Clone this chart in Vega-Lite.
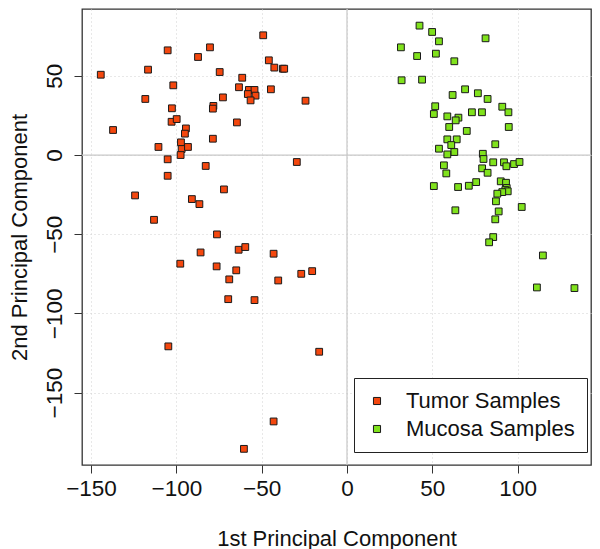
{
  "$schema": "https://vega.github.io/schema/vega-lite/v6.json",
  "autosize": "none",
  "width": 509,
  "height": 456,
  "padding": {"left": 82, "top": 9, "right": 9, "bottom": 84},
  "background": "white",
  "config": {
    "font": "Liberation Sans",
    "view": {"stroke": "#333333", "strokeWidth": 1.3},
    "axis": {
      "domain": false,
      "grid": true,
      "gridColor": "#d0d0d0",
      "gridDash": [1, 3],
      "gridWidth": 1,
      "ticks": true,
      "tickColor": "#333333",
      "tickSize": 8,
      "labelFont": "Liberation Sans",
      "labelFontSize": 22.5,
      "labelColor": "#111111",
      "labelFlush": false,
      "labelOverlap": false,
      "titleFont": "Liberation Sans",
      "titleFontSize": 22,
      "titleFontWeight": "normal",
      "titleColor": "#111111"
    },
    "legend": {
      "labelFont": "Liberation Sans",
      "labelFontSize": 22,
      "labelColor": "#111111",
      "labelLimit": 0
    }
  },
  "datasets": {
    "pts": [
      {"pc1": -144.3, "pc2": 50.7, "group": "Tumor Samples"},
      {"pc1": -137.1, "pc2": 15.8, "group": "Tumor Samples"},
      {"pc1": -124.2, "pc2": -25.5, "group": "Tumor Samples"},
      {"pc1": -118.2, "pc2": 35.4, "group": "Tumor Samples"},
      {"pc1": -116.6, "pc2": 53.9, "group": "Tumor Samples"},
      {"pc1": -113.1, "pc2": -40.9, "group": "Tumor Samples"},
      {"pc1": -110.5, "pc2": 5.1, "group": "Tumor Samples"},
      {"pc1": -105.1, "pc2": 66.1, "group": "Tumor Samples"},
      {"pc1": -105.1, "pc2": -2.7, "group": "Tumor Samples"},
      {"pc1": -105.1, "pc2": -13.1, "group": "Tumor Samples"},
      {"pc1": -102.6, "pc2": 29.5, "group": "Tumor Samples"},
      {"pc1": -102.8, "pc2": 21.0, "group": "Tumor Samples"},
      {"pc1": -101.8, "pc2": 44.0, "group": "Tumor Samples"},
      {"pc1": -99.8, "pc2": 22.7, "group": "Tumor Samples"},
      {"pc1": -97.3, "pc2": 8.0, "group": "Tumor Samples"},
      {"pc1": -96.9, "pc2": 3.8, "group": "Tumor Samples"},
      {"pc1": -97.5, "pc2": 0.0, "group": "Tumor Samples"},
      {"pc1": -94.4, "pc2": 16.8, "group": "Tumor Samples"},
      {"pc1": -95.0, "pc2": 13.5, "group": "Tumor Samples"},
      {"pc1": -93.2, "pc2": 5.1, "group": "Tumor Samples"},
      {"pc1": -90.9, "pc2": -27.8, "group": "Tumor Samples"},
      {"pc1": -86.5, "pc2": -31.0, "group": "Tumor Samples"},
      {"pc1": -87.3, "pc2": 61.9, "group": "Tumor Samples"},
      {"pc1": -80.3, "pc2": 68.0, "group": "Tumor Samples"},
      {"pc1": -82.8, "pc2": -6.9, "group": "Tumor Samples"},
      {"pc1": -78.3, "pc2": 31.0, "group": "Tumor Samples"},
      {"pc1": -78.6, "pc2": 29.3, "group": "Tumor Samples"},
      {"pc1": -78.6, "pc2": 10.3, "group": "Tumor Samples"},
      {"pc1": -74.6, "pc2": 52.4, "group": "Tumor Samples"},
      {"pc1": -72.7, "pc2": 36.4, "group": "Tumor Samples"},
      {"pc1": -72.1, "pc2": -21.7, "group": "Tumor Samples"},
      {"pc1": -76.2, "pc2": -50.1, "group": "Tumor Samples"},
      {"pc1": -64.5, "pc2": 20.6, "group": "Tumor Samples"},
      {"pc1": -63.3, "pc2": 42.8, "group": "Tumor Samples"},
      {"pc1": -61.4, "pc2": 48.8, "group": "Tumor Samples"},
      {"pc1": -57.5, "pc2": 41.1, "group": "Tumor Samples"},
      {"pc1": -54.2, "pc2": 41.1, "group": "Tumor Samples"},
      {"pc1": -58.1, "pc2": 38.5, "group": "Tumor Samples"},
      {"pc1": -53.6, "pc2": 37.5, "group": "Tumor Samples"},
      {"pc1": -56.5, "pc2": 34.5, "group": "Tumor Samples"},
      {"pc1": -49.1, "pc2": 75.6, "group": "Tumor Samples"},
      {"pc1": -45.8, "pc2": 59.8, "group": "Tumor Samples"},
      {"pc1": -42.6, "pc2": 55.2, "group": "Tumor Samples"},
      {"pc1": -37.6, "pc2": 54.5, "group": "Tumor Samples"},
      {"pc1": -36.8, "pc2": 54.5, "group": "Tumor Samples"},
      {"pc1": -44.6, "pc2": 41.5, "group": "Tumor Samples"},
      {"pc1": -24.3, "pc2": 34.3, "group": "Tumor Samples"},
      {"pc1": -29.4, "pc2": -4.4, "group": "Tumor Samples"},
      {"pc1": -85.8, "pc2": -61.5, "group": "Tumor Samples"},
      {"pc1": -97.7, "pc2": -68.6, "group": "Tumor Samples"},
      {"pc1": -63.5, "pc2": -59.8, "group": "Tumor Samples"},
      {"pc1": -59.6, "pc2": -58.1, "group": "Tumor Samples"},
      {"pc1": -76.4, "pc2": -70.3, "group": "Tumor Samples"},
      {"pc1": -64.9, "pc2": -72.8, "group": "Tumor Samples"},
      {"pc1": -69.0, "pc2": -78.5, "group": "Tumor Samples"},
      {"pc1": -43.0, "pc2": -62.3, "group": "Tumor Samples"},
      {"pc1": -40.3, "pc2": -79.2, "group": "Tumor Samples"},
      {"pc1": -26.8, "pc2": -75.0, "group": "Tumor Samples"},
      {"pc1": -20.4, "pc2": -73.3, "group": "Tumor Samples"},
      {"pc1": -69.6, "pc2": -91.0, "group": "Tumor Samples"},
      {"pc1": -54.2, "pc2": -91.6, "group": "Tumor Samples"},
      {"pc1": -104.7, "pc2": -120.8, "group": "Tumor Samples"},
      {"pc1": -16.3, "pc2": -124.2, "group": "Tumor Samples"},
      {"pc1": -43.0, "pc2": -168.2, "group": "Tumor Samples"},
      {"pc1": -60.4, "pc2": -185.5, "group": "Tumor Samples"},
      {"pc1": 42.5, "pc2": 81.7, "group": "Mucosa Samples"},
      {"pc1": 49.9, "pc2": 77.7, "group": "Mucosa Samples"},
      {"pc1": 53.9, "pc2": 71.8, "group": "Mucosa Samples"},
      {"pc1": 31.6, "pc2": 68.0, "group": "Mucosa Samples"},
      {"pc1": 41.1, "pc2": 62.5, "group": "Mucosa Samples"},
      {"pc1": 52.1, "pc2": 64.0, "group": "Mucosa Samples"},
      {"pc1": 62.9, "pc2": 59.2, "group": "Mucosa Samples"},
      {"pc1": 81.2, "pc2": 73.7, "group": "Mucosa Samples"},
      {"pc1": 32.0, "pc2": 47.2, "group": "Mucosa Samples"},
      {"pc1": 44.0, "pc2": 47.6, "group": "Mucosa Samples"},
      {"pc1": 61.9, "pc2": 37.9, "group": "Mucosa Samples"},
      {"pc1": 69.2, "pc2": 41.5, "group": "Mucosa Samples"},
      {"pc1": 76.7, "pc2": 39.0, "group": "Mucosa Samples"},
      {"pc1": 82.4, "pc2": 35.4, "group": "Mucosa Samples"},
      {"pc1": 51.7, "pc2": 30.8, "group": "Mucosa Samples"},
      {"pc1": 50.9, "pc2": 25.9, "group": "Mucosa Samples"},
      {"pc1": 58.8, "pc2": 24.4, "group": "Mucosa Samples"},
      {"pc1": 65.3, "pc2": 23.6, "group": "Mucosa Samples"},
      {"pc1": 63.7, "pc2": 21.9, "group": "Mucosa Samples"},
      {"pc1": 73.2, "pc2": 27.0, "group": "Mucosa Samples"},
      {"pc1": 79.1, "pc2": 27.0, "group": "Mucosa Samples"},
      {"pc1": 91.0, "pc2": 30.5, "group": "Mucosa Samples"},
      {"pc1": 94.6, "pc2": 27.0, "group": "Mucosa Samples"},
      {"pc1": 59.9, "pc2": 17.7, "group": "Mucosa Samples"},
      {"pc1": 94.8, "pc2": 17.7, "group": "Mucosa Samples"},
      {"pc1": 70.2, "pc2": 15.2, "group": "Mucosa Samples"},
      {"pc1": 58.8, "pc2": 9.9, "group": "Mucosa Samples"},
      {"pc1": 64.3, "pc2": 9.9, "group": "Mucosa Samples"},
      {"pc1": 61.1, "pc2": 6.3, "group": "Mucosa Samples"},
      {"pc1": 53.9, "pc2": 4.0, "group": "Mucosa Samples"},
      {"pc1": 86.9, "pc2": 6.8, "group": "Mucosa Samples"},
      {"pc1": 62.9, "pc2": 1.9, "group": "Mucosa Samples"},
      {"pc1": 58.8, "pc2": 0.4, "group": "Mucosa Samples"},
      {"pc1": 79.6, "pc2": 0.8, "group": "Mucosa Samples"},
      {"pc1": 80.0, "pc2": -2.5, "group": "Mucosa Samples"},
      {"pc1": 85.7, "pc2": -4.6, "group": "Mucosa Samples"},
      {"pc1": 92.0, "pc2": -4.6, "group": "Mucosa Samples"},
      {"pc1": 93.4, "pc2": -7.1, "group": "Mucosa Samples"},
      {"pc1": 97.9, "pc2": -5.7, "group": "Mucosa Samples"},
      {"pc1": 101.1, "pc2": -4.4, "group": "Mucosa Samples"},
      {"pc1": 56.8, "pc2": -6.5, "group": "Mucosa Samples"},
      {"pc1": 58.2, "pc2": -11.6, "group": "Mucosa Samples"},
      {"pc1": 79.2, "pc2": -8.4, "group": "Mucosa Samples"},
      {"pc1": 82.4, "pc2": -11.2, "group": "Mucosa Samples"},
      {"pc1": 50.9, "pc2": -19.6, "group": "Mucosa Samples"},
      {"pc1": 65.1, "pc2": -20.2, "group": "Mucosa Samples"},
      {"pc1": 71.4, "pc2": -19.4, "group": "Mucosa Samples"},
      {"pc1": 75.7, "pc2": -17.1, "group": "Mucosa Samples"},
      {"pc1": 90.1, "pc2": -16.6, "group": "Mucosa Samples"},
      {"pc1": 93.2, "pc2": -17.5, "group": "Mucosa Samples"},
      {"pc1": 93.6, "pc2": -20.8, "group": "Mucosa Samples"},
      {"pc1": 92.8, "pc2": -22.1, "group": "Mucosa Samples"},
      {"pc1": 94.2, "pc2": -22.9, "group": "Mucosa Samples"},
      {"pc1": 91.0, "pc2": -23.4, "group": "Mucosa Samples"},
      {"pc1": 88.1, "pc2": -24.4, "group": "Mucosa Samples"},
      {"pc1": 87.3, "pc2": -29.2, "group": "Mucosa Samples"},
      {"pc1": 102.4, "pc2": -32.8, "group": "Mucosa Samples"},
      {"pc1": 63.5, "pc2": -34.9, "group": "Mucosa Samples"},
      {"pc1": 88.9, "pc2": -35.6, "group": "Mucosa Samples"},
      {"pc1": 86.9, "pc2": -40.6, "group": "Mucosa Samples"},
      {"pc1": 85.7, "pc2": -51.8, "group": "Mucosa Samples"},
      {"pc1": 83.3, "pc2": -55.1, "group": "Mucosa Samples"},
      {"pc1": 114.8, "pc2": -63.4, "group": "Mucosa Samples"},
      {"pc1": 111.3, "pc2": -83.6, "group": "Mucosa Samples"},
      {"pc1": 133.3, "pc2": -84.0, "group": "Mucosa Samples"}
    ],
    "zero": [{"v": 0}]
  },
  "layer": [
    {
      "data": {"name": "zero"},
      "mark": {"type": "rule", "color": "#c8c8c8", "strokeWidth": 1.2},
      "encoding": {
        "x": {"field": "v", "type": "quantitative", "scale": {"domain": [-155.3, 143], "nice": false, "zero": false}}
      }
    },
    {
      "data": {"name": "zero"},
      "mark": {"type": "rule", "color": "#c8c8c8", "strokeWidth": 1.2},
      "encoding": {
        "y": {"field": "v", "type": "quantitative", "scale": {"domain": [-195.7, 92.2], "nice": false, "zero": false}}
      }
    },
    {
      "data": {"name": "pts"},
      "mark": {"type": "point", "shape": "square", "filled": true, "size": 46, "stroke": "#1a1a1a", "strokeWidth": 1, "opacity": 1},
      "encoding": {
        "x": {
          "field": "pc1", "type": "quantitative",
          "scale": {"domain": [-155.3, 143], "nice": false, "zero": false},
          "axis": {
            "values": [-150, -100, -50, 0, 50, 100],
            "title": "1st Principal Component",
            "labelPadding": 4,
            "titleX": 254.5,
            "titleY": 80,
            "titleBaseline": "alphabetic",
            "titleAlign": "center"
          }
        },
        "y": {
          "field": "pc2", "type": "quantitative",
          "scale": {"domain": [-195.7, 92.2], "nice": false, "zero": false},
          "axis": {
            "values": [-150, -100, -50, 0, 50],
            "title": "2nd Principal Component",
            "labelAngle": 270,
            "labelAlign": "center",
            "labelBaseline": "alphabetic",
            "labelPadding": 13,
            "titleAngle": 270,
            "titleX": -56,
            "titleY": 228,
            "titleAlign": "center",
            "titleBaseline": "alphabetic"
          }
        },
        "fill": {
          "field": "group", "type": "nominal",
          "scale": {"domain": ["Tumor Samples", "Mucosa Samples"], "range": ["#F4470E", "#80E21C"]},
          "legend": {
            "title": null,
            "orient": "none",
            "legendX": 272,
            "legendY": 369,
            "padding": 12,
            "strokeColor": "#222222",
            "fillColor": "white",
            "symbolType": "square",
            "symbolSize": 50,
            "symbolStrokeColor": "#1a1a1a",
            "symbolStrokeWidth": 1,
            "symbolOpacity": 1,
            "labelOffset": 18,
            "rowPadding": 6
          }
        }
      }
    }
  ]
}
